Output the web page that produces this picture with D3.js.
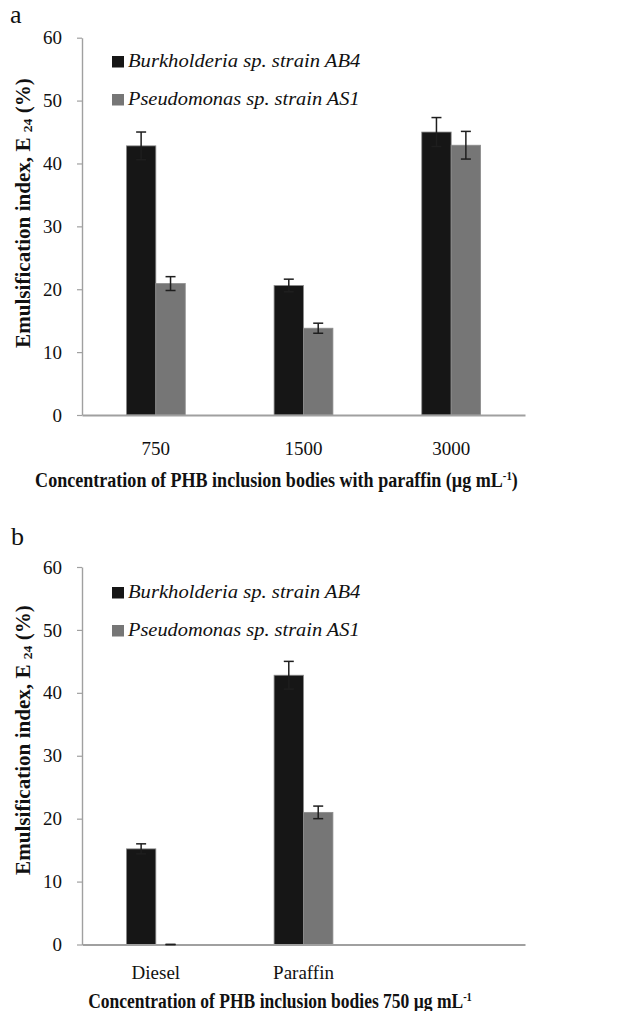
<!DOCTYPE html>
<html>
<head>
<meta charset="utf-8">
<script src="https://cdn.jsdelivr.net/npm/d3@7"></script>
<style>
  body { margin: 0; background: #fff; }
  svg { display: block; }
</style>
</head>
<body>
<div id="chart"></div>
<script>
// series names
const seriesNames = ['Burkholderia sp. strain AB4', 'Pseudomonas sp. strain AS1'];
const yTicks = [0, 10, 20, 30, 40, 50, 60];

// panel a - concentrations with paraffin
const catsA = ['750', '1500', '3000'];
const burkA = [42.8, 20.6, 45.0];
const burkAErr = [2.2, 1.0, 2.3];
const pseuA = [20.9, 13.8, 42.9];
const pseuAErr = [1.1, 0.8, 2.2];

// panel b - diesel vs paraffin at 750
const catsB = ['Diesel', 'Paraffin', ''];
const burkB = [15.2, 42.8, null];
const burkBErr = [0.8, 2.2, null];
const pseuB = [0, 21.0, null];
const pseuBErr = [0, 1.0, null];

const colors = ['#161616', '#767676'];
const W = 621, H = 1011;

const svg = d3.select('#chart').append('svg')
  .attr('width', W)
  .attr('height', H);

// squeeze a text horizontally (along its own direction) to a given length
function fitText(t, w, pre) {
  const bw = t.node().getBBox().width;
  t.attr('transform', `${pre} scale(${w / bw},1)`);
}

function panel(cfg) {
  const g = svg.append('g');

  const x = d3.scaleBand()
    .domain(cfg.cats.map((c, i) => i))
    .range([82, 525]);

  const x1 = d3.scaleBand()
    .domain([0, 1])
    .range([0, x.bandwidth()])
    .paddingOuter(1.51);

  const y = d3.scaleLinear()
    .domain([0, 60])
    .range(cfg.yRange);

  // y axis
  g.append('g')
    .attr('transform', 'translate(82,0)')
    .call(d3.axisLeft(y).tickValues(yTicks).tickSize(5).tickPadding(15).tickSizeOuter(0))
    .call(a => a.select('.domain').attr('stroke', '#a0a0a0').attr('stroke-width', 1.4))
    .call(a => a.selectAll('.tick line').attr('stroke', '#a0a0a0').attr('stroke-width', 1.2))
    .call(a => a.selectAll('.tick text')
      .attr('fill', '#111')
      .style('font-family', '"Liberation Serif", serif')
      .style('font-size', '19px'));

  // bars
  const rows = cfg.cats.map((c, i) => [
    { cat: i, s: 0, v: cfg.s1[i], e: cfg.e1[i] },
    { cat: i, s: 1, v: cfg.s2[i], e: cfg.e2[i] }
  ]).flat().filter(d => d.v != null);

  g.append('g').selectAll('rect')
    .data(rows.filter(d => d.v > 0))
    .join('rect')
    .attr('x', d => x(d.cat) + x1(d.s))
    .attr('y', d => y(d.v))
    .attr('width', x1.bandwidth())
    .attr('height', d => y(0) - y(d.v))
    .attr('fill', d => colors[d.s])
    .attr('stroke', '#8c8c8c')
    .attr('stroke-width', 0.8);

  // x axis
  g.append('g')
    .attr('transform', `translate(0,${y(0)})`)
    .call(d3.axisBottom(x).tickSize(0).tickSizeOuter(0).tickFormat(i => cfg.cats[i]))
    .call(a => a.select('.domain').attr('stroke', '#a0a0a0').attr('stroke-width', 2))
    .call(a => a.selectAll('.tick text')
      .attr('y', cfg.labelOff)
      .attr('dy', 0)
      .attr('fill', '#111')
      .style('font-family', '"Liberation Serif", serif')
      .style('font-size', '19px'));

  // error bars
  const eb = g.append('g').attr('stroke', '#1e1e1e').attr('stroke-width', 1.5);
  rows.forEach(d => {
    const cx = x(d.cat) + x1(d.s) + x1.bandwidth() / 2;
    const top = y(d.v + d.e), bot = y(Math.max(0, d.v - d.e));
    eb.append('line').attr('x1', cx).attr('x2', cx).attr('y1', top).attr('y2', bot);
    eb.append('line').attr('x1', cx - 5).attr('x2', cx + 5).attr('y1', top).attr('y2', top);
    eb.append('line').attr('x1', cx - 5).attr('x2', cx + 5).attr('y1', bot).attr('y2', bot);
  });

  // legend
  const lg = g.append('g');
  seriesNames.forEach((name, i) => {
    const ly = cfg.legendY + i * 38;
    lg.append('rect')
      .attr('x', 112).attr('y', ly - 11)
      .attr('width', 12).attr('height', 11.5)
      .attr('fill', colors[i]);
    const t = lg.append('text')
      .style('font-family', '"Liberation Serif", serif')
      .style('font-style', 'italic')
      .style('font-size', '19px')
      .attr('fill', '#111')
      .text(name);
    fitText(t, 233, `translate(128,${ly})`);
  });

  // y title
  const yt = g.append('text')
    .attr('text-anchor', 'middle')
    .style('font-family', '"Liberation Serif", serif')
    .style('font-weight', 'bold')
    .style('font-size', '20px')
    .attr('fill', '#111');
  yt.append('tspan').text('Emulsification index, E ');
  yt.append('tspan').attr('dy', 2).style('font-size', '13px').text('24');
  yt.append('tspan').attr('dy', -2).text(' (%)');
  fitText(yt, 270, `translate(30,${cfg.yTitleY}) rotate(-90)`);

  // x title
  const xt = g.append('text')
    .attr('text-anchor', 'middle')
    .style('font-family', '"Liberation Serif", serif')
    .style('font-weight', 'bold')
    .style('font-size', '20px')
    .attr('fill', '#111');
  xt.append('tspan').text(cfg.xTitle + ' mL');
  xt.append('tspan').attr('dy', -7).style('font-size', '12px').text('-1');
  if (cfg.close) xt.append('tspan').attr('dy', 7).text(')');
  fitText(xt, cfg.xTitleW, `translate(${cfg.xTitleX},${cfg.xTitleY})`);

  // panel letter
  svg.append('text')
    .attr('x', cfg.letter[1])
    .attr('y', cfg.letter[2])
    .style('font-family', '"Liberation Serif", serif')
    .style('font-size', '26px')
    .attr('fill', '#111')
    .text(cfg.letter[0]);
}

panel({
  cats: catsA, s1: burkA, e1: burkAErr, s2: pseuA, e2: pseuAErr,
  yRange: [415, 37.7], labelOff: 40, legendY: 67, yTitleY: 213,
  xTitle: 'Concentration of PHB inclusion bodies with paraffin (\u00b5g', close: true,
  xTitleX: 276.5, xTitleY: 487, xTitleW: 483,
  letter: ['a', 10, 23]
});

panel({
  cats: catsB, s1: burkB, e1: burkBErr, s2: pseuB, e2: pseuBErr,
  yRange: [944.5, 567], labelOff: 34.5, legendY: 598, yTitleY: 740,
  xTitle: 'Concentration of PHB inclusion bodies 750 \u00b5g', close: false,
  xTitleX: 280, xTitleY: 1008, xTitleW: 384,
  letter: ['b', 11, 545]
});
</script>
</body>
</html>
